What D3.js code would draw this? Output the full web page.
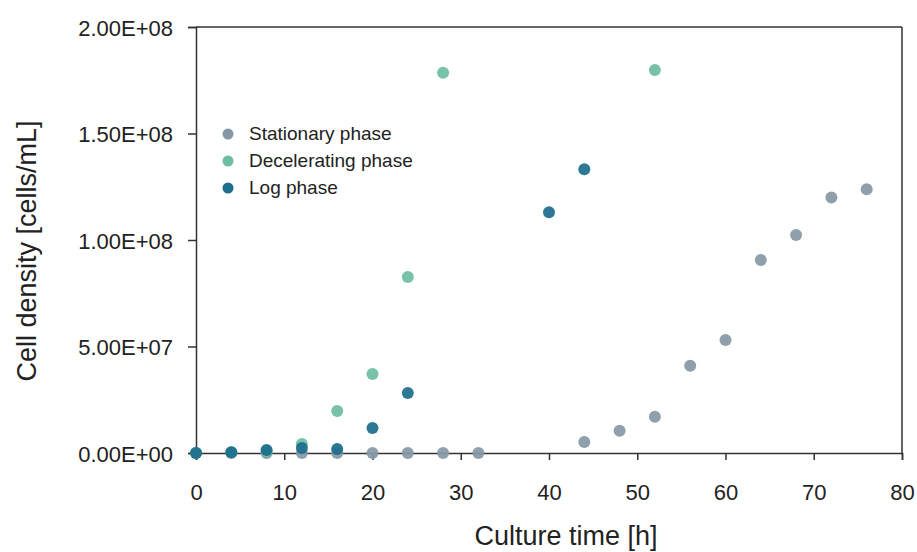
<!DOCTYPE html>
<html>
<head>
<meta charset="utf-8">
<script src="https://cdn.jsdelivr.net/npm/d3@7"></script>
<style>
  html, body { margin: 0; padding: 0; background: #fff; }
  svg { display: block; font-family: "Liberation Sans", Arial, sans-serif; }
</style>
</head>
<body>
<svg id="chart" width="917" height="552"></svg>
<script>
// ---- Data ----
const seriesNames = ["Stationary phase", "Decelerating phase", "Log phase"];
const seriesColors = ["#8598a5", "#6cbda3", "#1b6e8c"];

const stationaryTime = [0, 4, 8, 12, 16, 20, 24, 28, 32, 44, 48, 52, 56, 60, 64, 68, 72, 76];
const stationaryDensity = [0, 0, 0, 0, 0, 0, 0, 0, 0, 5.2e6, 1.05e7, 1.7e7, 4.1e7, 5.3e7, 9.06e7, 1.023e8, 1.199e8, 1.238e8];

const deceleratingTime = [0, 4, 8, 12, 16, 20, 24, 28, 52];
const deceleratingDensity = [0, 3e5, 8e5, 4.2e6, 1.97e7, 3.71e7, 8.26e7, 1.785e8, 1.798e8];

const logTime = [0, 4, 8, 12, 16, 20, 24, 40, 44];
const logDensity = [0, 3e5, 1.4e6, 2.3e6, 1.9e6, 1.17e7, 2.82e7, 1.13e8, 1.332e8];

const xTicks = [0, 10, 20, 30, 40, 50, 60, 70, 80];
const yTicks = [0, 5e7, 1e8, 1.5e8, 2e8];
const yTickLabels = ["0.00E+00", "5.00E+07", "1.00E+08", "1.50E+08", "2.00E+08"];

const xTitle = "Culture time [h]";
const yTitle = "Cell density [cells/mL]";

// ---- Layout ----
const svg = d3.select("#chart");
const mLeft = 196, mRight = 902, mTop = 27, mBottom = 453;
const x = d3.scaleLinear().domain([0, 80]).range([mLeft, mRight]);
const y = d3.scaleLinear().domain([0, 2e8]).range([mBottom, mTop]);
const axisColor = "#333";
const textColor = "#222";

// frame (top + right)
svg.append("line").attr("x1", mLeft).attr("x2", mRight).attr("y1", mTop).attr("y2", mTop)
  .attr("stroke", axisColor).attr("stroke-width", 1.5);
svg.append("line").attr("x1", mRight).attr("x2", mRight).attr("y1", mTop).attr("y2", mBottom)
  .attr("stroke", axisColor).attr("stroke-width", 1.5);

// axes
const xAxis = d3.axisBottom(x).tickValues(xTicks).tickSize(7).tickPadding(24).tickFormat(d3.format("d"));
const gx = svg.append("g").attr("transform", `translate(0,${mBottom})`).call(xAxis);
const yAxis = d3.axisLeft(y).tickValues(yTicks).tickSize(8).tickPadding(15)
  .tickFormat((d, i) => yTickLabels[i]);
const gy = svg.append("g").attr("transform", `translate(${mLeft},0)`).call(yAxis);

[gx, gy].forEach(g => {
  g.select(".domain").attr("stroke", axisColor).attr("stroke-width", 1.5);
  g.selectAll(".tick line").attr("stroke", axisColor).attr("stroke-width", 1.5);
  g.selectAll(".tick text").attr("fill", textColor)
    .style("font-size", "22px")
    .style("font-family", "'Liberation Sans', Arial, sans-serif");
});
gy.selectAll(".tick text").attr("dy", "0.38em");

// titles
svg.append("text").attr("x", 566).attr("y", 545)
  .attr("text-anchor", "middle").style("font-size", "27px").attr("fill", textColor).text(xTitle);
svg.append("text").attr("transform", `translate(36,251) rotate(-90)`)
  .attr("text-anchor", "middle").style("font-size", "27px").attr("fill", textColor).text(yTitle);

// points
const series = [
  { t: stationaryTime, v: stationaryDensity },
  { t: deceleratingTime, v: deceleratingDensity },
  { t: logTime, v: logDensity }
];
series.forEach((s, i) => {
  svg.append("g").selectAll("circle")
    .data(s.t.map((t, j) => [t, s.v[j]]))
    .join("circle")
    .attr("cx", d => x(d[0]))
    .attr("cy", d => y(d[1]))
    .attr("r", 6)
    .attr("fill", seriesColors[i])
    .attr("fill-opacity", 0.92);
});

// legend
const lg = svg.append("g").attr("transform", "translate(228,134)");
seriesNames.forEach((name, i) => {
  const row = lg.append("g").attr("transform", `translate(0,${i * 27})`);
  row.append("circle").attr("r", 5.5).attr("fill", seriesColors[i]);
  row.append("text").attr("x", 21).attr("y", 5.5).style("font-size", "19px")
    .attr("fill", textColor).text(name);
});
</script>
</body>
</html>
